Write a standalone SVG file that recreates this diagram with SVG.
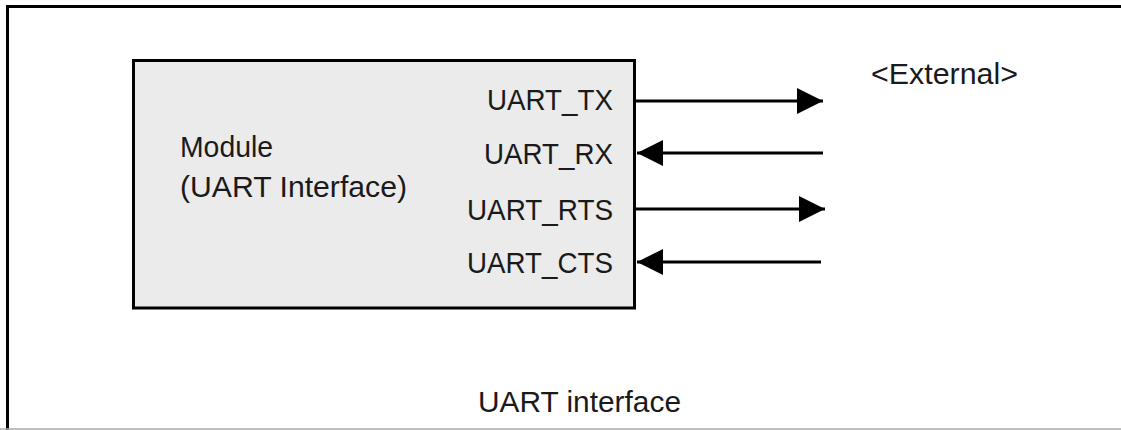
<svg xmlns="http://www.w3.org/2000/svg" width="1121" height="430" viewBox="0 0 1121 430">
  <style>
    .lbl { font-family: "Liberation Sans", Arial, sans-serif; font-size: 30px; fill: #1a1a1a; }
    .conn { stroke: #000; stroke-width: 3; fill: none; marker-end: url(#arrow); }
  </style>
  <defs>
    <marker id="arrow" viewBox="0 0 26 26" refX="26" refY="13" markerWidth="26" markerHeight="26" markerUnits="userSpaceOnUse" orient="auto">
      <path d="M0,0 L26,13 L0,26 Z" fill="#000"/>
    </marker>
  </defs>
  <rect width="1121" height="430" fill="#fff"/>
  <g id="frame">
    <path d="M7.5,430 V6.5 H1121" stroke="#000" stroke-width="3" fill="none"/>
    <line x1="0" y1="429" x2="1121" y2="429" stroke="#aaa" stroke-width="1.5"/>
    <text class="lbl" x="478" y="412" textLength="203" lengthAdjust="spacingAndGlyphs">UART interface</text>
  </g>
  <g id="module">
    <rect x="133.5" y="60.5" width="501" height="247.5" fill="#ebebeb" stroke="#000" stroke-width="3"/>
    <text class="lbl" x="180" y="157" textLength="93" lengthAdjust="spacingAndGlyphs">Module</text>
    <text class="lbl" x="180" y="197" textLength="227" lengthAdjust="spacingAndGlyphs">(UART Interface)</text>
    <text class="lbl" x="613" y="110" text-anchor="end" textLength="126" lengthAdjust="spacingAndGlyphs">UART_TX</text>
    <text class="lbl" x="613" y="164" text-anchor="end" textLength="129" lengthAdjust="spacingAndGlyphs">UART_RX</text>
    <text class="lbl" x="613" y="220" text-anchor="end" textLength="146" lengthAdjust="spacingAndGlyphs">UART_RTS</text>
    <text class="lbl" x="613" y="273" text-anchor="end" textLength="146" lengthAdjust="spacingAndGlyphs">UART_CTS</text>
  </g>
  <g id="external">
    <text class="lbl" x="871" y="84" textLength="147" lengthAdjust="spacingAndGlyphs">&lt;External&gt;</text>
  </g>
  <g id="connectors">
    <line class="conn" x1="636" y1="101" x2="823" y2="101"/>
    <line class="conn" x1="823" y1="153" x2="637" y2="153"/>
    <line class="conn" x1="636" y1="209" x2="825" y2="209"/>
    <line class="conn" x1="821" y1="262" x2="637" y2="262"/>
  </g>
</svg>
